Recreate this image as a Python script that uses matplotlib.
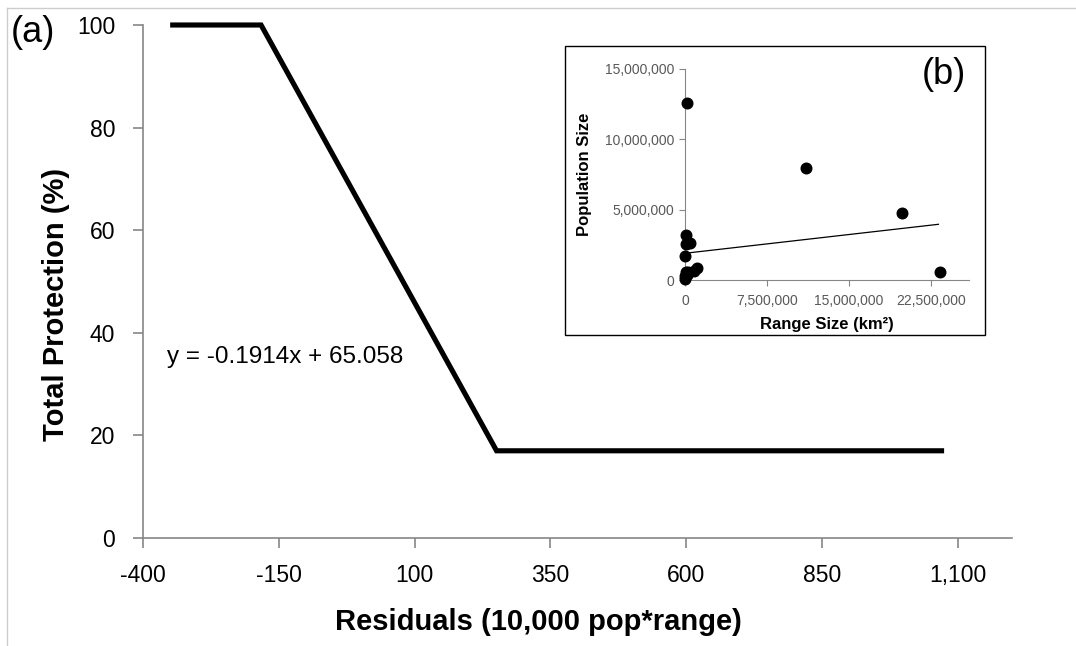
import numpy as np
import matplotlib
matplotlib.use("Agg")
import matplotlib.pyplot as plt
from matplotlib.patches import Rectangle
from matplotlib.lines import Line2D
from matplotlib.ticker import FuncFormatter

plt.rcParams["font.family"] = ["Liberation Sans", "DejaVu Sans"]

# main panel (a): protection vs residuals
residuals = [-350, -182.6, 251, 1075]
protection = [100, 100, 17, 17]
xTicks = [-400, -150, 100, 350, 600, 850, 1100]
yTicks = [0, 20, 40, 60, 80, 100]
equation = "y = -0.1914x + 65.058"

# inset panel (b): population vs range size
rangeSize = [150e3, 11.1e6, 19.9e6, 23.3e6, 100e3, 100e3, 500e3, 0, 1.1e6, 0.8e6,
             50e3, 150e3, 20e3, 250e3, 30e3]
popSize = [12.56e6, 7.98e6, 4.76e6, 0.55e6, 3.2e6, 2.56e6, 2.6e6, 1.7e6, 0.85e6, 0.65e6,
           0.55e6, 0.35e6, 0.1e6, 0.6e6, 0.25e6]
trendX = [0, 23.2e6]
trendY = [1.9e6, 3.96e6]
insetXTicks = [0, 7.5e6, 15e6, 22.5e6]
insetYTicks = [0, 5e6, 10e6, 15e6]

W, H = 1076, 646
fig = plt.figure(figsize=(W / 100, H / 100), dpi=100)

def px(x0, y0, x1, y1):
    return [x0 / W, 1 - y1 / H, (x1 - x0) / W, (y1 - y0) / H]

spineColor = "#868686"
commaFmt = FuncFormatter(lambda v, p: f"{v:,.0f}")

ax1 = fig.add_axes(px(143, 25, 1012, 538))
ax1.plot(residuals, protection, color="black", linewidth=3.7, solid_capstyle="butt",
         solid_joinstyle="miter", clip_on=False)
ax1.set_xlim(-400, 1200)
ax1.set_ylim(0, 100)
ax1.set_xticks(xTicks)
ax1.set_yticks(yTicks)
ax1.xaxis.set_major_formatter(commaFmt)
for s in ["top", "right"]:
    ax1.spines[s].set_visible(False)
for s in ["left", "bottom"]:
    ax1.spines[s].set_color(spineColor)
    ax1.spines[s].set_linewidth(1.2)
ax1.tick_params(axis="both", colors=spineColor, length=7, width=1.2, labelsize=16.5,
                labelcolor="black", direction="out")
ax1.tick_params(axis="x", pad=12)
ax1.tick_params(axis="y", pad=13)
ax1.set_xlabel("Residuals (10,000 pop*range)", fontsize=21, fontweight="bold")
ax1.xaxis.set_label_coords(0.455, -84 / 513)
ax1.xaxis.label.set_va("center")
ax1.set_ylabel("Total Protection (%)", fontsize=21, fontweight="bold")
ax1.yaxis.set_label_coords(-87 / 869, 0.456)
ax1.yaxis.label.set_va("center")
fig.text(167 / W, 1 - 357 / H, equation, fontsize=17.5, ha="left", va="center")
fig.text(11 / W, 1 - 33 / H, "(a)", fontsize=26, ha="left", va="center")

# inset box
fig.add_artist(Rectangle((565 / W, 1 - 335 / H), 420 / W, 289 / H, transform=fig.transFigure,
                         fill=False, edgecolor="black", linewidth=1))

ax2 = fig.add_axes(px(685, 69, 969, 280))
ax2.scatter(rangeSize, popSize, s=58, color="black", zorder=3, clip_on=False)
ax2.plot(trendX, trendY, color="black", linewidth=0.9)
ax2.set_xlim(0, 26e6)
ax2.set_ylim(0, 15e6)
ax2.set_xticks(insetXTicks)
ax2.set_yticks(insetYTicks)
ax2.xaxis.set_major_formatter(commaFmt)
ax2.yaxis.set_major_formatter(commaFmt)
for s in ["top", "right"]:
    ax2.spines[s].set_visible(False)
for s in ["left", "bottom"]:
    ax2.spines[s].set_color(spineColor)
    ax2.spines[s].set_linewidth(0.8)
ax2.tick_params(axis="both", colors=spineColor, length=4, width=0.8, labelsize=10,
                labelcolor="#595959", direction="out")
ax2.tick_params(axis="x", pad=6)
ax2.set_xlabel("Range Size (km²)", fontsize=12, fontweight="bold")
ax2.xaxis.set_label_coords(0.5, -45 / 211)
ax2.xaxis.label.set_va("center")
ax2.set_ylabel("Population Size", fontsize=12, fontweight="bold")
ax2.yaxis.set_label_coords(-100 / 284, 0.5)
ax2.yaxis.label.set_va("center")
fig.text(944 / W, 1 - 75 / H, "(b)", fontsize=26, ha="center", va="center")

# light outer frame
fig.add_artist(Line2D([7 / W, 1], [1 - 8 / H, 1 - 8 / H], transform=fig.transFigure,
                      color="#cccccc", linewidth=1))
fig.add_artist(Line2D([7 / W, 7 / W], [0, 1 - 8 / H], transform=fig.transFigure,
                      color="#cccccc", linewidth=1))

fig.savefig("out.png", dpi=100)
